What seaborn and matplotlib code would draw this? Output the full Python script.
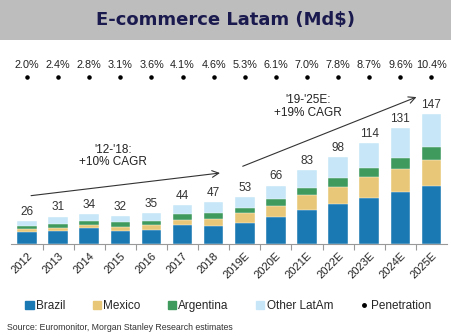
import numpy as np
import pandas as pd
import matplotlib
matplotlib.use("Agg")
import matplotlib.pyplot as plt
from matplotlib.patches import Patch, Rectangle
from matplotlib.lines import Line2D
import seaborn as sns

years = ["2012", "2013", "2014", "2015", "2016", "2017", "2018",
         "2019E", "2020E", "2021E", "2022E", "2023E", "2024E", "2025E"]
brazil = [14, 15, 18, 14.5, 15.7, 21, 20.8, 24, 30, 38.4, 45, 52, 59, 65]
mexico = [2.5, 3.5, 4, 4.7, 5.5, 6.2, 7.7, 11, 13, 16.5, 19, 23.3, 25.6, 30]
argentina = [4, 4.2, 4.3, 5.4, 4.7, 6.6, 7, 6, 7.5, 8, 10.5, 10.9, 12.8, 14.3]
other = [5.5, 8.3, 7.7, 7.4, 9.1, 10.2, 11.5, 12, 15.5, 20.1, 23.5, 27.8, 33.6, 37.7]
totals = [26, 31, 34, 32, 35, 44, 47, 53, 66, 83, 98, 114, 131, 147]
penetration = ["2.0%", "2.4%", "2.8%", "3.1%", "3.6%", "4.1%", "4.6%",
               "5.3%", "6.1%", "7.0%", "7.8%", "8.7%", "9.6%", "10.4%"]

sns.set_theme(style="white")
plt.rcParams['font.family'] = ['Liberation Sans', 'DejaVu Sans']

c_brazil = "#1a79b2"
c_mexico = "#e8c878"
c_arg = "#3f9a5e"
c_other = "#c7e7f8"

df = pd.DataFrame({"year": years, "Brazil": brazil, "Mexico": mexico,
                   "Argentina": argentina, "Other LatAm": other})
df["c1"] = df["Brazil"]
df["c2"] = df["c1"] + df["Mexico"]
df["c3"] = df["c2"] + df["Argentina"]
df["c4"] = df["c3"] + df["Other LatAm"]

fig = plt.figure(figsize=(4.52, 3.36), dpi=100)
# title banner
fig.patches.append(Rectangle((0, 1 - 40/336), 1, 40/336, transform=fig.transFigure,
                             facecolor="#bdbdbd", edgecolor="none", zorder=0))
fig.text(0.5, 1 - 20/336, "E-commerce Latam (Md$)", ha="center", va="center",
         fontsize=13, fontweight="bold", color="#1b1a4f", family="DejaVu Sans")

ax = fig.add_axes([11.5/452, 1 - 244/336, 435.5/452, 194/336])
ax.patch.set_alpha(0)
for col, colr in [("c4", c_other), ("c3", c_arg), ("c2", c_mexico), ("c1", c_brazil)]:
    sns.barplot(data=df, x="year", y=col, color=colr, width=0.63, ax=ax,
                saturation=1, edgecolor="white", linewidth=0.3)

ax.set_xlim(-0.5, len(years) - 0.5)
ax.set_ylim(0, 219)
ax.set_xlabel("")
ax.set_ylabel("")
ax.set_yticks([])
for s in ["top", "right", "left"]:
    ax.spines[s].set_visible(False)
ax.spines["bottom"].set_color("#999999")
ax.spines["bottom"].set_linewidth(0.8)
ax.set_xticks(range(len(years)))
ax.set_xticklabels(years, rotation=45, ha="right", rotation_mode="anchor",
                   fontsize=8, color="#222222")
ax.tick_params(axis="x", which="major", length=0, pad=5)
ax.set_xticks(np.arange(len(years) - 1) + 0.5, minor=True)
ax.tick_params(axis="x", which="minor", length=4, width=0.8, color="#999999",
               direction="out", bottom=True)

for i, (t, c) in enumerate(zip(totals, df["c4"])):
    ax.text(i, c + 3.5, f"{t}", ha="center", va="bottom", fontsize=8.5, color="#333333")

# penetration row
pen_level = 188
ax.scatter(range(len(years)), [pen_level] * len(years), s=5, color="black", zorder=5)
for i, p in enumerate(penetration):
    ax.text(i, 202, p, ha="center", va="center", fontsize=7.8, color="#222222")

# CAGR arrows
ax.annotate("", xy=(6.29, 80.5), xytext=(0.04, 54.2),
            arrowprops=dict(arrowstyle="->", color="#333333", lw=0.8))
ax.text(2.77, 99.3, "'12-'18:\n+10% CAGR", ha="center", va="center", fontsize=8.5,
        color="#222222", linespacing=1.1)
ax.annotate("", xy=(12.6, 167), xytext=(6.85, 86.6),
            arrowprops=dict(arrowstyle="->", color="#333333", lw=0.8))
ax.text(9.04, 155, "'19-'25E:\n+19% CAGR", ha="center", va="center", fontsize=8.5,
        color="#222222", linespacing=1.1)

handles = [Patch(color=c_brazil), Patch(color=c_mexico), Patch(color=c_arg),
           Patch(color=c_other),
           Line2D([], [], marker="o", color="black", linestyle="none", markersize=2.5)]
labels = ["Brazil", "Mexico", "Argentina", "Other LatAm", "Penetration"]
fig.legend(handles, labels, loc="center", bbox_to_anchor=(0.505, 1 - 306/336), ncol=5,
           frameon=False, fontsize=8.5, handlelength=0.7, handleheight=0.7,
           handletextpad=0.2, columnspacing=2.3)

fig.text(7/452, 1 - 327/336, "Source: Euromonitor, Morgan Stanley Research estimates",
         ha="left", va="center", fontsize=6.3, color="#333333")

fig.savefig("out.png", dpi=100)
